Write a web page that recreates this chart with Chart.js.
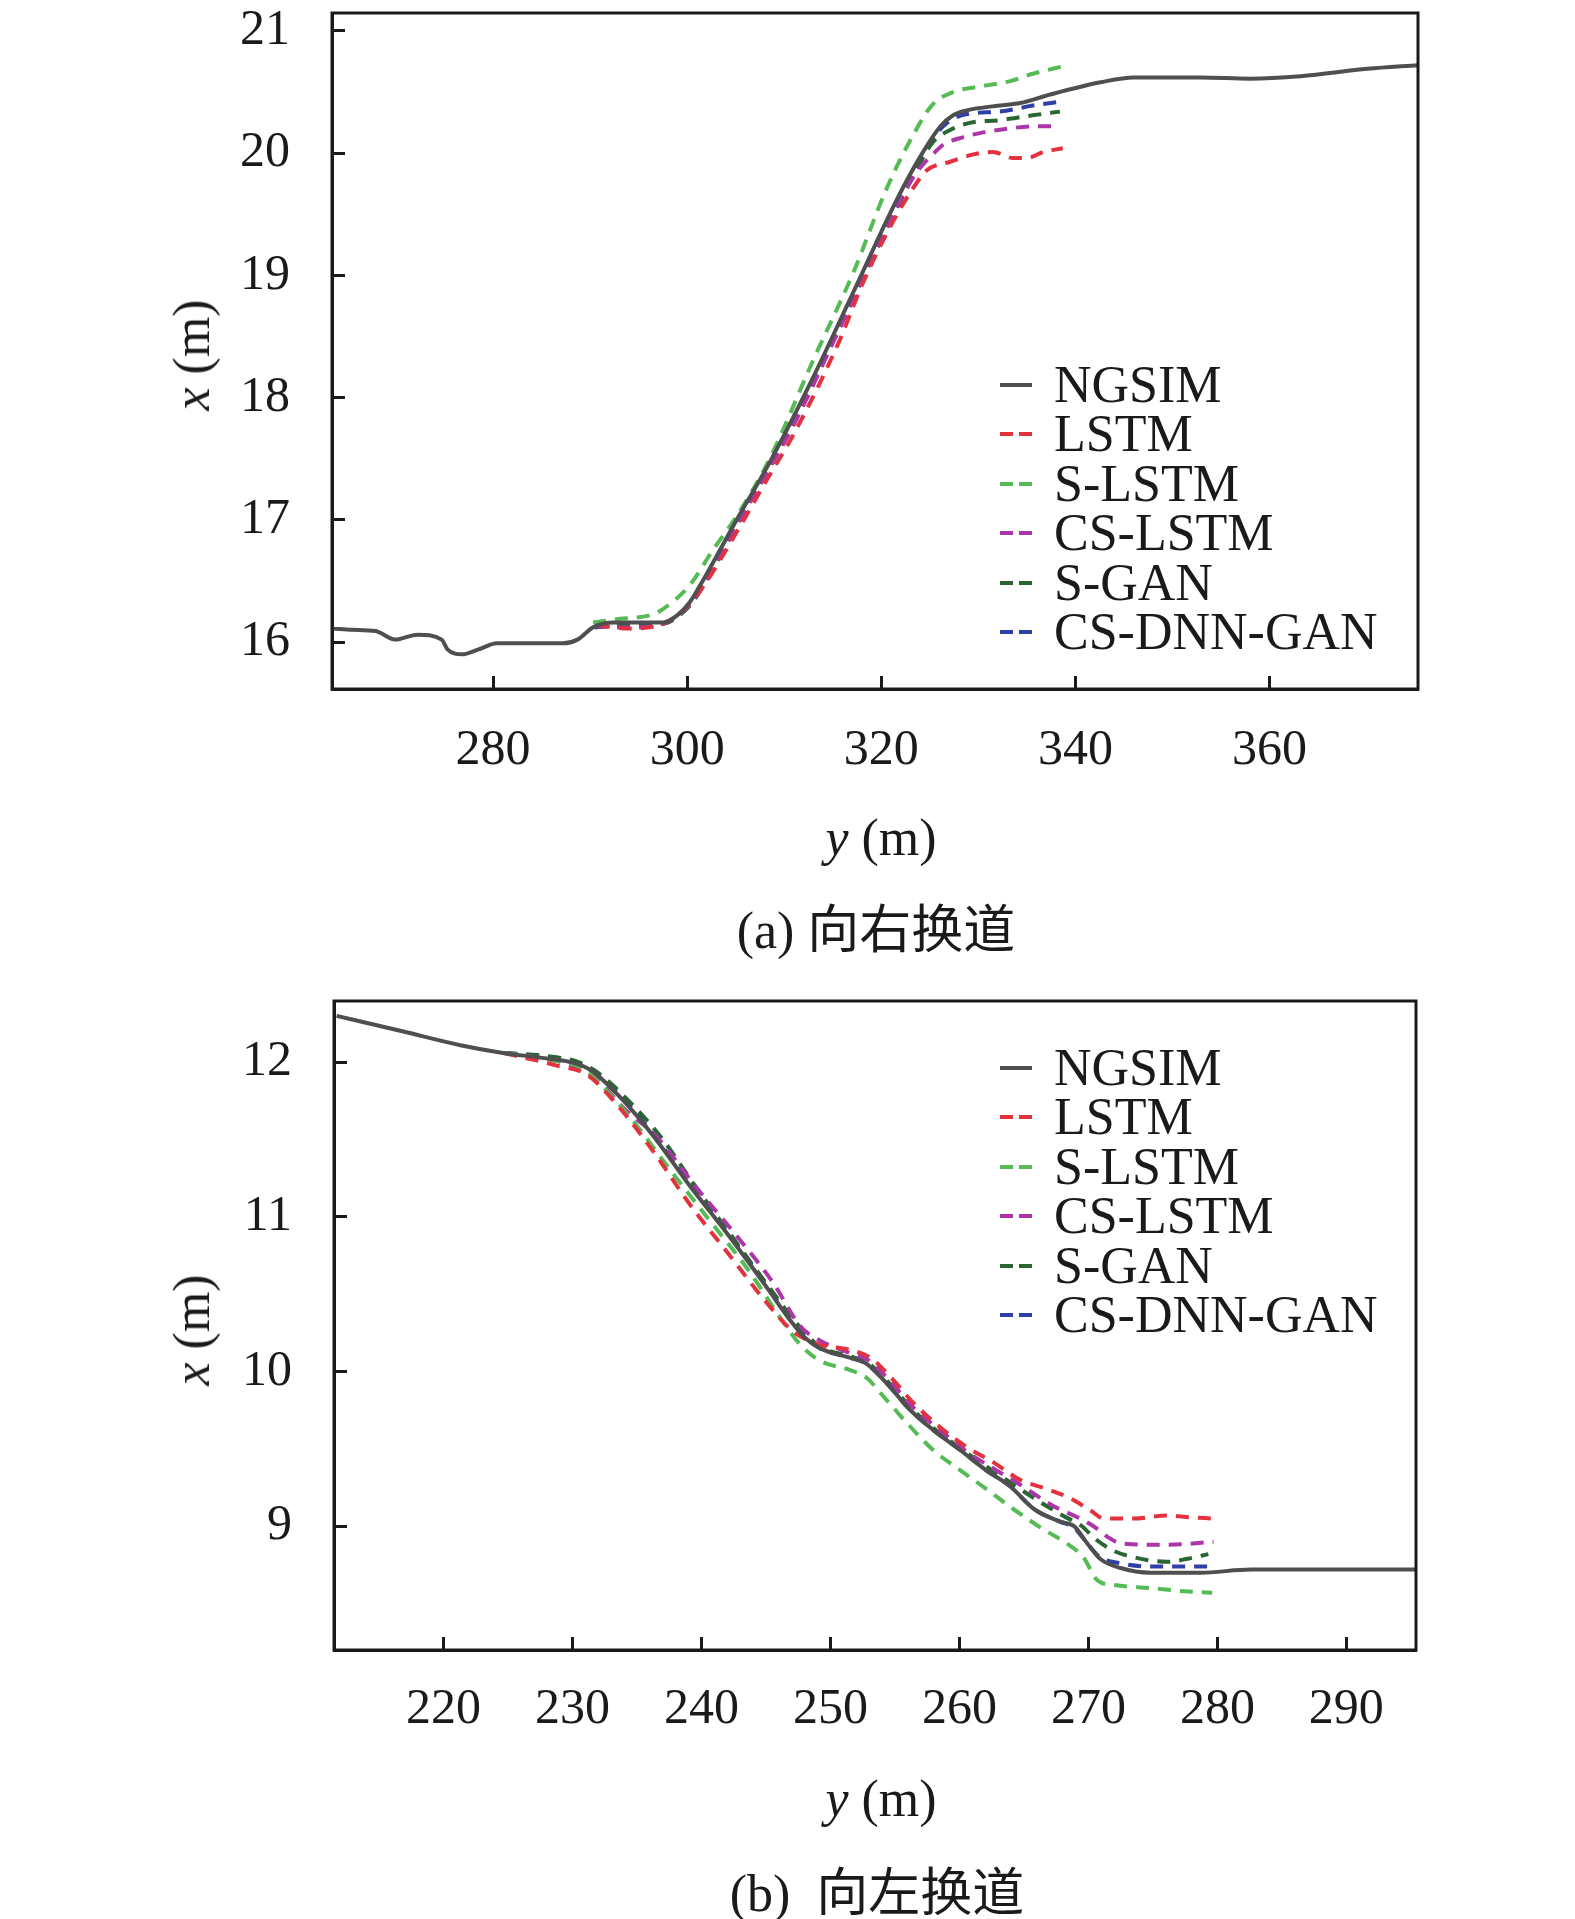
<!DOCTYPE html>
<html>
<head>
  <title>向右 / 向左换道轨迹</title>
  <script src="https://cdn.jsdelivr.net/npm/chart.js@4"></script>
  <style>
    body {
      margin: 0;
      width: 1575px;
      height: 1919px;
      background: #fff;
      overflow: hidden;
      position: relative;
      font-family: 'Liberation Serif', 'Times New Roman', serif;
      color: #1a1a1a;
    }
    .wrap {
      position: absolute;
      left: 0;
      width: 1460px;
      height: 800px;
    }
    .label {
      position: absolute;
      font-size: 52px;
      line-height: 1;
      white-space: nowrap;
      transform: translate(-50%, -50%);
    }
    .label.rot {
      transform: translate(-50%, -50%) rotate(-90deg);
    }
    .caption {
      font-family: 'Liberation Serif', 'Noto Sans CJK SC', serif;
    }
    .legend {
      position: absolute;
      left: 1000px;
    }
    .legend .row {
      position: absolute;
      left: 0;
      display: flex;
      align-items: center;
      height: 50px;
      transform: translateY(-50%);
      white-space: nowrap;
    }
    .legend .swatch {
      width: 32px;
      height: 4px;
      margin-right: 22px;
    }
    .legend .text {
      font-size: 52px;
      line-height: 1;
    }
  </style>
</head>
<body>
  <div class="wrap" id="wrapA" style="top:0px"><canvas id="chartA"></canvas></div>
  <div class="wrap" id="wrapB" style="top:960px"><canvas id="chartB"></canvas></div>

  <div class="label rot" style="left:192px; top:355px"><i>x</i> (m)</div>
  <div class="label" style="left:881px; top:838px"><i>y</i> (m)</div>
  <div class="label caption" style="left:876px; top:931px">(a) 向右换道</div>

  <div class="label rot" style="left:192px; top:1330px"><i>x</i> (m)</div>
  <div class="label" style="left:881px; top:1799px"><i>y</i> (m)</div>
  <div class="label caption" style="left:877px; top:1894px">(b)&nbsp;&nbsp;向左换道</div>

  <div class="legend" id="legendA" style="top:385px"></div>
  <div class="legend" id="legendB" style="top:1068px"></div>

  <script>
    // series names, shared by both panels
    const seriesNames = ['NGSIM', 'LSTM', 'S-LSTM', 'CS-LSTM', 'S-GAN', 'CS-DNN-GAN'];

    // (a) right lane change: y (m) along road, x (m) lateral
    const ngsimRightY = [263.5, 265.5, 267.9, 269.9, 272.2, 274.7, 275.3, 276.8, 278.5, 280.4, 283.8, 287.2, 288.7, 290.3, 292.4, 295.0, 297.5, 299.0, 300.3, 301.3, 302.1, 305.1, 308.5, 313.0, 317.1, 321.6, 324.0, 326.1, 327.4, 328.8, 332.2, 334.3, 337.4, 342.6, 346.0, 352.9, 358.0, 363.2, 370.1, 375.3];
    const ngsimRightX = [16.11, 16.10, 16.09, 16.02, 16.06, 16.02, 15.94, 15.90, 15.94, 15.99, 15.99, 15.99, 16.02, 16.12, 16.16, 16.16, 16.16, 16.22, 16.33, 16.46, 16.57, 17.00, 17.47, 18.17, 18.86, 19.62, 19.97, 20.22, 20.31, 20.35, 20.39, 20.41, 20.48, 20.58, 20.62, 20.62, 20.61, 20.63, 20.69, 20.72];

    const lstmRightY = [290.7, 294.1, 297.5, 299.6, 301.6, 305.1, 308.0, 311.1, 315.6, 318.0, 320.6, 323.0, 324.7, 327.1, 329.5, 331.5, 333.6, 335.0, 336.7, 338.7];
    const lstmRightX = [16.14, 16.11, 16.15, 16.26, 16.45, 16.90, 17.30, 17.72, 18.45, 18.92, 19.35, 19.68, 19.86, 19.93, 19.99, 20.01, 19.96, 19.96, 20.01, 20.04];

    const slstmRightY = [290.3, 293.1, 296.2, 297.5, 300.3, 302.7, 305.1, 308.5, 313.0, 317.1, 320.6, 323.5, 325.3, 327.4, 330.5, 333.3, 335.6, 338.7];
    const slstmRightX = [16.16, 16.19, 16.22, 16.27, 16.47, 16.76, 17.03, 17.50, 18.31, 19.02, 19.72, 20.18, 20.40, 20.50, 20.55, 20.59, 20.65, 20.71];

    const cslstmRightY = [290.5, 294.0, 297.5, 299.8, 301.6, 305.1, 308.3, 310.8, 315.2, 320.0, 322.5, 324.0, 325.3, 326.4, 328.4, 330.5, 333.0, 335.6, 337.9];
    const cslstmRightX = [16.13, 16.12, 16.15, 16.27, 16.45, 16.95, 17.40, 17.75, 18.48, 19.30, 19.70, 19.88, 19.99, 20.07, 20.13, 20.17, 20.20, 20.22, 20.22];

    const sganRightY = [290.5, 294.0, 297.5, 299.2, 300.6, 302.4, 305.4, 308.8, 313.3, 317.4, 321.8, 324.0, 325.3, 327.1, 329.2, 332.2, 335.6, 338.4];
    const sganRightX = [16.13, 16.14, 16.15, 16.22, 16.33, 16.57, 17.00, 17.47, 18.17, 18.86, 19.58, 19.92, 20.09, 20.19, 20.25, 20.27, 20.31, 20.34];

    const csdnnRightY = [290.5, 294.0, 297.5, 299.2, 300.4, 302.2, 305.2, 308.6, 313.1, 317.2, 321.7, 324.2, 325.3, 326.8, 328.8, 332.2, 335.6, 338.4];
    const csdnnRightX = [16.12, 16.14, 16.15, 16.22, 16.32, 16.56, 16.99, 17.46, 18.16, 18.85, 19.61, 19.97, 20.12, 20.25, 20.32, 20.34, 20.39, 20.42];

    // (b) left lane change
    const ngsimLeftY = [211.7, 216.8, 221.3, 224.6, 227.5, 229.9, 231.4, 233.5, 236.2, 239.1, 242.1, 245.1, 246.8, 248.0, 249.2, 251.5, 252.8, 254.4, 256.2, 258.0, 260.1, 262.1, 263.9, 265.8, 267.8, 268.9, 269.9, 270.9, 272.5, 274.8, 278.7, 282.6, 288.0, 295.4];
    const ngsimLeftX = [12.30, 12.20, 12.11, 12.06, 12.03, 12.00, 11.95, 11.79, 11.53, 11.20, 10.88, 10.54, 10.34, 10.22, 10.15, 10.09, 10.05, 9.92, 9.75, 9.62, 9.49, 9.36, 9.26, 9.11, 9.03, 9.00, 8.89, 8.79, 8.73, 8.70, 8.70, 8.72, 8.72, 8.72];

    const lstmLeftY = [224.7, 228.7, 231.1, 233.5, 236.2, 239.1, 242.1, 245.1, 247.1, 248.9, 251.5, 253.1, 254.6, 256.4, 258.5, 260.6, 262.7, 264.7, 266.8, 268.6, 270.2, 271.2, 273.5, 276.1, 277.6, 279.7];
    const lstmLeftX = [12.06, 11.98, 11.92, 11.72, 11.43, 11.08, 10.76, 10.44, 10.26, 10.18, 10.14, 10.09, 9.97, 9.80, 9.64, 9.51, 9.41, 9.30, 9.24, 9.18, 9.10, 9.05, 9.05, 9.07, 9.06, 9.05];

    const slstmLeftY = [224.7, 228.7, 230.8, 232.6, 234.7, 237.6, 240.6, 243.6, 246.0, 247.7, 249.2, 251.5, 252.8, 254.1, 255.9, 258.0, 260.1, 262.1, 264.2, 266.5, 268.3, 269.6, 270.7, 272.0, 274.8, 277.4, 279.6];
    const slstmLeftX = [12.06, 12.01, 11.96, 11.82, 11.62, 11.30, 10.98, 10.66, 10.36, 10.17, 10.07, 10.01, 9.96, 9.84, 9.67, 9.49, 9.36, 9.24, 9.11, 8.98, 8.89, 8.80, 8.65, 8.62, 8.60, 8.58, 8.57];

    const cslstmLeftY = [224.7, 228.0, 230.0, 232.0, 234.0, 236.5, 239.5, 242.5, 245.5, 247.7, 249.2, 251.5, 253.0, 254.6, 256.4, 258.5, 260.6, 262.5, 264.5, 267.3, 269.1, 270.4, 271.5, 272.5, 276.1, 279.7];
    const cslstmLeftX = [12.06, 12.02, 11.98, 11.88, 11.70, 11.52, 11.20, 10.90, 10.58, 10.29, 10.20, 10.12, 10.07, 9.94, 9.77, 9.62, 9.48, 9.38, 9.28, 9.13, 9.06, 9.00, 8.93, 8.89, 8.88, 8.90];

    const sganLeftY = [224.7, 228.0, 230.5, 232.0, 234.7, 237.0, 239.5, 242.3, 245.2, 247.5, 249.2, 251.5, 253.0, 254.5, 256.3, 258.2, 260.3, 262.2, 264.0, 266.0, 268.0, 269.5, 270.5, 272.0, 273.5, 276.1, 277.7, 279.3];
    const sganLeftX = [12.06, 12.04, 12.00, 11.93, 11.72, 11.50, 11.20, 10.88, 10.55, 10.30, 10.16, 10.10, 10.05, 9.93, 9.76, 9.62, 9.49, 9.38, 9.28, 9.17, 9.07, 9.00, 8.92, 8.84, 8.80, 8.77, 8.79, 8.82];

    const csdnnLeftY = [224.7, 227.5, 229.9, 231.4, 233.5, 236.2, 239.1, 242.1, 245.1, 246.8, 248.0, 249.2, 251.5, 252.8, 254.4, 256.2, 258.0, 260.1, 262.1, 263.9, 265.8, 267.8, 268.9, 269.9, 270.9, 272.5, 274.8, 277.1, 279.5];
    const csdnnLeftX = [12.06, 12.04, 12.01, 11.95, 11.80, 11.54, 11.21, 10.89, 10.55, 10.35, 10.23, 10.15, 10.09, 10.05, 9.92, 9.75, 9.62, 9.49, 9.36, 9.26, 9.11, 9.03, 8.99, 8.89, 8.80, 8.76, 8.74, 8.74, 8.74];

    // axis ranges and tick steps
    const rightYRange = [263.4, 375.3];
    const rightXRange = [15.616, 21.147];
    const leftYRange = [211.5, 295.4];
    const leftXRange = [8.20, 12.396];
    const rightYStep = 20;
    const leftYStep = 10;

    const styles = [
      { color: '#4f4f4f', dash: [] },
      { color: '#e3323e', dash: [13, 9] },
      { color: '#55bb55', dash: [13, 9] },
      { color: '#ad35aa', dash: [13, 9] },
      { color: '#2a6632', dash: [13, 9] },
      { color: '#2f3fa8', dash: [13, 9] }
    ];

    const ink = '#1a1a1a';
    const tickFont = { family: "'Liberation Serif', 'Times New Roman', serif", size: 50, lineHeight: 1 };

    function toPoints(ys, xs) {
      return ys.map((v, i) => ({ x: v, y: xs[i] }));
    }

    const framePlugin = {
      id: 'frame',
      afterDraw(chart) {
        const a = chart.chartArea;
        const ctx = chart.ctx;
        ctx.save();
        ctx.strokeStyle = ink;
        ctx.lineWidth = 3;
        ctx.strokeRect(a.left, a.top, a.right - a.left, a.bottom - a.top);
        ctx.restore();
      }
    };

    // keep the label padding from pushing the plot area around
    function noPad(scale) {
      scale.paddingTop = 0;
      scale.paddingBottom = 0;
      scale.paddingLeft = 0;
      scale.paddingRight = 0;
    }

    function makeChart(id, series, yRange, xRange, yStep, box) {
      const datasets = series.map((s, i) => ({
        label: seriesNames[i],
        data: toPoints(s[0], s[1]),
        showLine: true,
        borderColor: styles[i].color,
        borderDash: styles[i].dash,
        borderWidth: 4,
        pointRadius: 0,
        cubicInterpolationMode: 'monotone',
        fill: false
      }));

      const axisGrid = {
        display: true,
        drawOnChartArea: false,
        drawTicks: true,
        tickLength: -13,
        tickWidth: 3,
        tickColor: ink
      };

      new Chart(document.getElementById(id), {
        type: 'scatter',
        data: { datasets },
        options: {
          responsive: true,
          maintainAspectRatio: false,
          animation: false,
          layout: { padding: { top: box.top, right: box.right, left: 0, bottom: 0 } },
          plugins: { legend: { display: false }, tooltip: { enabled: false } },
          scales: {
            x: {
              type: 'linear',
              min: yRange[0],
              max: yRange[1],
              grid: axisGrid,
              border: { display: true, width: 3, color: ink },
              ticks: {
                stepSize: yStep,
                includeBounds: false,
                autoSkip: false,
                maxRotation: 0,
                padding: box.xPad,
                color: ink,
                font: tickFont
              },
              afterFit(scale) { scale.height = box.xHeight; noPad(scale); }
            },
            y: {
              type: 'linear',
              min: xRange[0],
              max: xRange[1],
              grid: axisGrid,
              border: { display: true, width: 3, color: ink },
              ticks: {
                stepSize: 1,
                includeBounds: false,
                autoSkip: false,
                padding: 55,
                color: ink,
                font: tickFont
              },
              afterFit(scale) { scale.width = box.yWidth; noPad(scale); }
            }
          }
        },
        plugins: [framePlugin]
      });
    }

    function makeLegend(id) {
      const el = document.getElementById(id);
      seriesNames.forEach((name, i) => {
        const row = document.createElement('div');
        row.className = 'row';
        row.style.top = (i * 49.4) + 'px';
        const sw = document.createElement('span');
        sw.className = 'swatch';
        const c = styles[i].color;
        sw.style.background = styles[i].dash.length
          ? `linear-gradient(to right, ${c} 0 13px, transparent 13px 19px, ${c} 19px 32px)`
          : c;
        const tx = document.createElement('span');
        tx.className = 'text';
        tx.textContent = name;
        row.appendChild(sw);
        row.appendChild(tx);
        el.appendChild(row);
      });
    }

    makeChart('chartA', [
      [ngsimRightY, ngsimRightX],
      [lstmRightY, lstmRightX],
      [slstmRightY, slstmRightX],
      [cslstmRightY, cslstmRightX],
      [sganRightY, sganRightX],
      [csdnnRightY, csdnnRightX]
    ], rightYRange, rightXRange, rightYStep,
      { top: 13, right: 42, yWidth: 332, xHeight: 111, xPad: 50 });

    makeChart('chartB', [
      [ngsimLeftY, ngsimLeftX],
      [lstmLeftY, lstmLeftX],
      [slstmLeftY, slstmLeftX],
      [cslstmLeftY, cslstmLeftX],
      [sganLeftY, sganLeftX],
      [csdnnLeftY, csdnnLeftX]
    ], leftYRange, leftXRange, leftYStep,
      { top: 41, right: 44, yWidth: 334, xHeight: 110, xPad: 48 });

    makeLegend('legendA');
    makeLegend('legendB');
  </script>
</body>
</html>
